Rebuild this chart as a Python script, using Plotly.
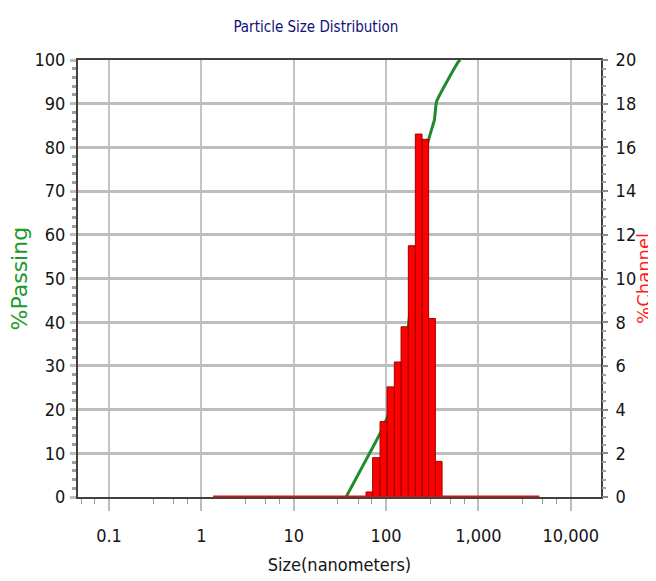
import plotly.graph_objects as go

# ---- data ----
bin_edges_nm = [60.7, 71.6, 86.1, 102.5, 123.0, 145.4, 174.4, 207.7, 245.5, 289.3, 342.1, 404.3]
channel_pct = [0.23, 1.80, 3.45, 5.04, 6.18, 7.79, 11.5, 16.61, 16.37, 8.17, 1.63]

zero_channel_range_nm = [1.34, 4580.0]
zero_channel_pct = [0.0, 0.0]

passing_size_nm = [36.9, 86.0, 100.0, 121.0, 151.0, 169.0, 186.0, 208.0, 233.0, 260.0, 282.0, 334.0, 353.0, 612.0, 640.0]
passing_pct = [0.0, 14.5, 17.6, 21.4, 29.8, 36.6, 44.3, 51.0, 59.5, 71.0, 80.9, 86.3, 90.5, 99.7, 100.0]

x_tick_vals = [0.1, 1, 10, 100, 1000, 10000]
x_tick_text = ["0.1", "1", "10", "100", "1,000", "10,000"]
x_minor_vals = [0.03, 0.05, 0.07, 0.3, 0.5, 0.7, 3, 5, 7, 30, 50, 70, 300, 500, 700, 3000, 5000, 7000]

# ---- build bar outlines (one closed polygon per channel) ----
bx, by = [], []
for i, h in enumerate(channel_pct):
    l, r = bin_edges_nm[i], bin_edges_nm[i + 1]
    bx += [l, l, r, r, l, None]
    by += [0, h, h, 0, 0, None]

NARROW = "Liberation Sans Narrow, Arial Narrow, DejaVu Sans Condensed, sans-serif"

fig = go.Figure()
fig.add_trace(go.Scatter(
    x=bx, y=by, yaxis="y2", mode="lines", fill="toself",
    fillcolor="#ff0000", line=dict(color="#a00000", width=1),
    hoverinfo="skip", showlegend=False))
fig.add_trace(go.Scatter(
    x=zero_channel_range_nm, y=zero_channel_pct, yaxis="y2", mode="lines",
    line=dict(color="#e01010", width=3), showlegend=False))
fig.add_trace(go.Scatter(
    x=passing_size_nm, y=passing_pct, mode="lines",
    line=dict(color="#1e8c2a", width=3, shape="spline", smoothing=0.4),
    showlegend=False))

x_lo, x_hi = -1.336, 4.328

fig.update_layout(
    width=648, height=573,
    margin=dict(l=70, r=55, t=52, b=84, autoexpand=False),
    paper_bgcolor="white", plot_bgcolor="white",
    title=dict(text="Particle Size Distribution", x=0.475, xref="container", xanchor="center",
               y=0.967, yref="container", yanchor="middle",
               font=dict(family=NARROW, size=15, color="#10107a")),
    xaxis=dict(
        type="log", range=[x_lo, x_hi], automargin=False,
        tickmode="array", tickvals=x_tick_vals, ticktext=x_tick_text,
        ticks="outside", ticklen=12, tickwidth=2, tickcolor="#bdbdbd",
        ticklabelstandoff=9,
        showgrid=True, gridcolor="#c4c4c4", gridwidth=2,
        showline=True, linecolor="#404040", linewidth=2, mirror=True,
        tickfont=dict(family=NARROW, size=18, color="#141414"),
        minor=dict(tickmode="array", tickvals=x_minor_vals, ticks="outside",
                   ticklen=5, tickcolor="#9a9a9a", tickwidth=1, showgrid=False),
        title=dict(text="Size(nanometers)", standoff=14,
                   font=dict(family=NARROW, size=18, color="#141414")),
        zeroline=False,
    ),
    yaxis=dict(
        range=[0, 100], dtick=10, tick0=0, automargin=False,
        ticks="outside", ticklen=6, tickwidth=3, tickcolor="#bdbdbd",
        showgrid=True, gridcolor="#bdbdbd", gridwidth=3,
        showline=True, linecolor="#404040", linewidth=2, mirror=True,
        tickfont=dict(family=NARROW, size=18, color="#141414"),
        ticklabelstandoff=1,
        minor=dict(dtick=2, ticks="outside", ticklen=4, tickcolor="#a0a0a0", showgrid=False),
        zeroline=False,
    ),
    yaxis2=dict(
        range=[0, 20], dtick=2, tick0=0, overlaying="y", side="right", automargin=False,
        ticks="outside", ticklen=6, tickwidth=2, tickcolor="#8a8a8a",
        showgrid=False, showline=False, zeroline=False,
        tickfont=dict(family=NARROW, size=18, color="#141414"),
        ticklabelstandoff=4,
        minor=dict(dtick=0.4, ticks="outside", ticklen=4, tickcolor="#a0a0a0"),
    ),
    annotations=[
        dict(text="%Passing", xref="paper", yref="paper", x=-0.112, y=0.501,
             xanchor="center", yanchor="middle", textangle=-90, showarrow=False,
             font=dict(family="DejaVu Sans", size=22, color="#1e9a2a")),
        dict(text="%Channel", xref="paper", yref="paper", x=1.080, y=0.501,
             xanchor="center", yanchor="middle", textangle=-90, showarrow=False,
             font=dict(family="DejaVu Sans", size=18, color="#ff1a1a")),
    ],
)

fig.write_html("out.html")
